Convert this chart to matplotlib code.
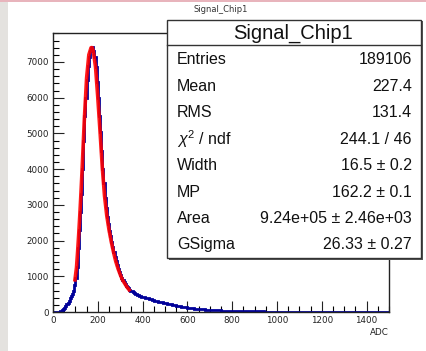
import numpy as np
import matplotlib
matplotlib.use("Agg")
import matplotlib.pyplot as plt
from matplotlib.patches import Rectangle

# ---- data ----
# fine bins (5 ADC) from 0 to 400
counts_fine = [0, 0, 0, 0, 0, 5, 15, 30, 55, 80,                 # 0-45
               120, 160, 210, 260, 320, 380, 440, 500, 580, 750,  # 50-95
               950, 1250, 1800, 2300, 2800, 3300, 4000, 4800, 5500, 6000,  # 100-145
               6500, 6900, 7150, 7300, 7400, 7420, 7300, 7150, 6850, 6450,  # 150-195
               6000, 5500, 5050, 4500, 4000, 3600, 3200, 2900, 2650, 2450,  # 200-245
               2280, 2120, 1970, 1820, 1680, 1540, 1420, 1310, 1210, 1120,  # 250-295
               1040, 960, 890, 830, 780, 735, 695, 660, 625, 595,  # 300-345
               575, 555, 535, 515, 500, 485, 470, 455, 440, 430]   # 350-395
# coarser bins (10 ADC) from 400 to 1500
counts_coarse = [420, 400, 380, 360, 340, 320, 305, 290, 275, 260,   # 400-490
                 245, 230, 215, 200, 188, 175, 162, 150, 140, 130,   # 500-590
                 120, 112, 104, 97, 90, 84, 78, 72, 66, 61,          # 600-690
                 57, 53, 50, 47, 44, 41, 38, 36, 34, 32,             # 700-790
                 30, 28, 27, 25, 24, 22, 21, 20, 19, 18,             # 800-890
                 17, 16, 15, 14, 13, 10, 6, 6, 5, 5,                 # 900-990
                 5, 4, 4, 4, 4, 3, 3, 3, 3, 3,                       # 1000-1090
                 3, 3, 2, 2, 2, 2, 2, 2, 2, 2,                       # 1100-1190
                 2, 2, 2, 1, 1, 1, 1, 1, 1, 1,                       # 1200-1290
                 1, 1, 1, 1, 1, 1, 1, 1, 1, 1,                       # 1300-1390
                 1, 1, 1, 1, 1, 1, 1, 1, 1, 1]                       # 1400-1490

fit_x = [98, 105, 110, 115, 120, 125, 130, 140, 150, 160, 170, 175, 180, 190, 200,
         210, 220, 230, 240, 250, 260, 270, 280, 290, 300, 310, 320, 330, 340]
fit_y = [900, 1250, 1700, 2200, 2750, 3350, 4000, 5400, 6550, 7200, 7400, 7400,
         7300, 6850, 6000, 5050, 4050, 3250, 2700, 2300, 1970, 1680, 1420, 1220,
         1050, 900, 800, 700, 620]

title = "Signal_Chip1"
stat_labels = ["Entries", "Mean", "RMS", r"$\chi^2$ / ndf", "Width", "MP", "Area", "GSigma"]
stat_values = ["189106", "227.4", "131.4", "244.1 / 46", "16.5 ± 0.2",
               "162.2 ± 0.1", "9.24e+05 ± 2.46e+03", "26.33 ± 0.27"]

plt.rcParams['font.family'] = ['Liberation Sans', 'DejaVu Sans']
plt.rcParams['mathtext.fontset'] = 'custom'
plt.rcParams['mathtext.rm'] = 'Liberation Sans'
plt.rcParams['mathtext.it'] = 'Liberation Sans:italic'

W, H = 426, 351
fig = plt.figure(figsize=(W / 100, H / 100), dpi=100)
fig.patch.set_facecolor('white')

def fx(px):
    return px / W

def fy(py):
    return 1 - py / H

# background decorations
fig.patches.append(Rectangle((0, 0), fx(8), 1, transform=fig.transFigure,
                             facecolor='#e4e2df', edgecolor='none', zorder=0))
fig.patches.append(Rectangle((0, fy(2)), 1, 2 / H, transform=fig.transFigure,
                             facecolor='#e8b4bc', edgecolor='none', zorder=0))

ax = fig.add_axes([fx(53), fy(312), fx(389) - fx(53), fy(33) - fy(312)])
edges = np.concatenate([np.arange(0, 400, 5), np.arange(400, 1501, 10)])
counts = counts_fine + counts_coarse
ax.stairs(counts, edges, color='#000099', lw=2.0, zorder=2)
ax.plot(fit_x, fit_y, color='#ff0000', lw=2.6, zorder=3, alpha=0.9)

ax.set_xlim(0, 1500)
ax.set_ylim(0, 7810)
ax.set_xticks(np.arange(0, 1401, 200))
ax.set_xticks(np.arange(0, 1501, 50), minor=True)
ax.set_yticks(np.arange(0, 7001, 1000))
ax.set_yticks(np.arange(0, 7801, 200), minor=True)
ax.tick_params(which='major', direction='in', length=8, width=0.8, labelsize=6.3,
               colors='#222222', pad=3)
ax.tick_params(which='minor', direction='in', length=4, width=0.8)
for lab in ax.get_xticklabels() + ax.get_yticklabels():
    lab.set_family('DejaVu Sans')
for s in ax.spines.values():
    s.set_linewidth(1.0)
    s.set_color('#222222')
ax.set_xlabel("ADC", fontsize=6.3, loc='right', labelpad=2, color='#222222',
              family='DejaVu Sans')

fig.text(fx(221), fy(9), title, fontsize=6, ha='center', va='center',
         color='#333333', family='DejaVu Sans')

# stat box
bx0, by0, bx1, by1 = 167, 20, 421, 258
fig.patches.append(Rectangle((fx(bx0) + 1.5 / W, fy(by1) - 1.5 / H), fx(bx1) - fx(bx0),
                             fy(by0) - fy(by1), transform=fig.transFigure,
                             facecolor='#555555', edgecolor='none', zorder=5))
fig.patches.append(Rectangle((fx(bx0), fy(by1)), fx(bx1) - fx(bx0), fy(by0) - fy(by1),
                             transform=fig.transFigure, facecolor='white',
                             edgecolor='#333333', lw=1.0, zorder=6))
fig.add_artist(plt.Line2D([fx(bx0), fx(bx1)], [fy(45), fy(45)], color='#333333',
                          lw=1.0, zorder=7))
fig.text(fx(293), fy(33), title, fontsize=14.5, ha='center', va='center',
         color='#111111', zorder=8)
row_y = 60
for lab, val in zip(stat_labels, stat_values):
    fig.text(fx(177), fy(row_y), lab, fontsize=11.5, ha='left', va='center',
             color='#111111', zorder=8)
    fig.text(fx(412), fy(row_y), val, fontsize=11.5, ha='right', va='center',
             color='#111111', zorder=8)
    row_y += 26.4

fig.savefig("out.png", dpi=100)
